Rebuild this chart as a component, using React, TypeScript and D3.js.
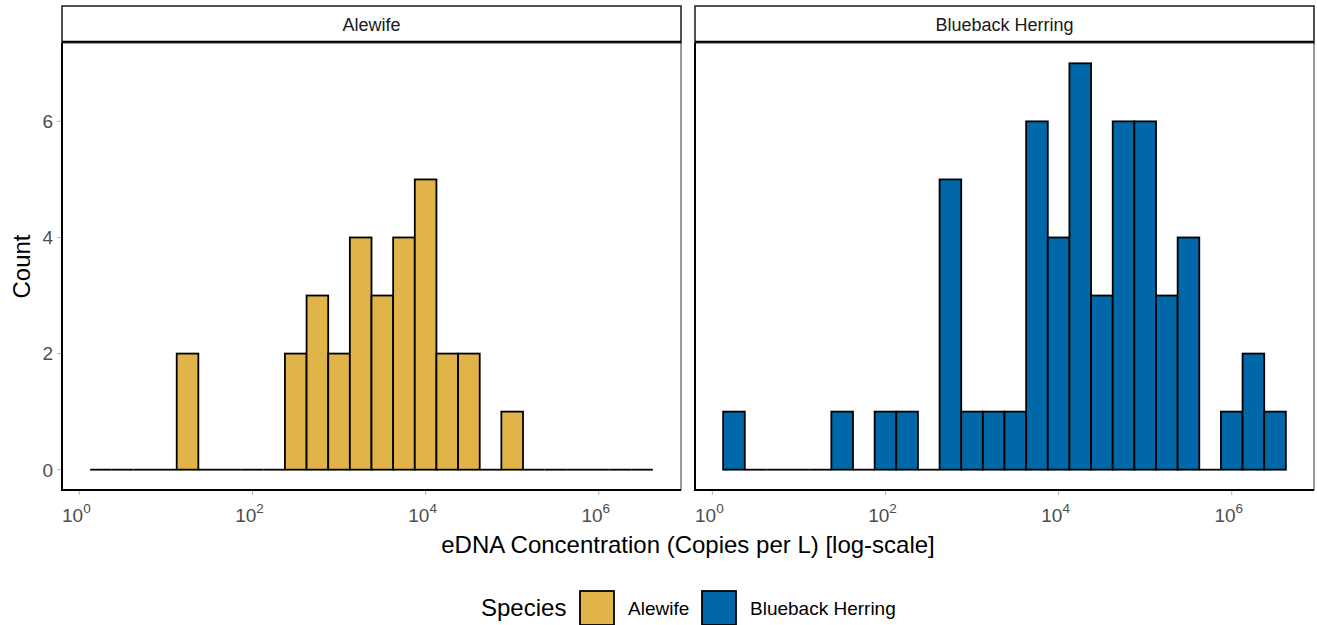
import React from 'react';
import * as d3 from 'd3';

// bins are 0.25 log10 units wide; centres from 0.25 to 6.5
const binCentres = [
  0.25, 0.5, 0.75, 1.0, 1.25, 1.5, 1.75, 2.0, 2.25, 2.5, 2.75, 3.0, 3.25,
  3.5, 3.75, 4.0, 4.25, 4.5, 4.75, 5.0, 5.25, 5.5, 5.75, 6.0, 6.25, 6.5,
];
const alewifeCounts = [
  0, 0, 0, 0, 2, 0, 0, 0, 0, 2, 3, 2, 4, 3, 4, 5, 2, 2, 0, 1, 0, 0, 0, 0, 0, 0,
];
const bluebackCounts = [
  1, 0, 0, 0, 0, 1, 0, 1, 1, 0, 5, 1, 1, 1, 6, 4, 7, 3, 6, 6, 3, 4, 0, 1, 2, 1,
];
const binWidth = 0.25;
const species = ['Alewife', 'Blueback Herring'];
const colours = ['#E1B44A', '#0068A8'];
const xTicks = [0, 2, 4, 6];
const yTicks = [0, 2, 4, 6];

const panels = [
  { name: species[0], counts: alewifeCounts, fill: colours[0], left: 62 },
  { name: species[1], counts: bluebackCounts, fill: colours[1], left: 695 },
];

const W = 1317;
const H = 625;
const panelW = 619;
const panelTop = 43;
const panelBottom = 490;
const stripTop = 6;
const font = 'Arial, "Liberation Sans", sans-serif';

const Panel: React.FC<{ name: string; counts: number[]; fill: string; left: number; first: boolean }> = ({
  name,
  counts,
  fill,
  left,
  first,
}) => {
  const lo = binCentres[0] - binWidth / 2;
  const hi = binCentres[binCentres.length - 1] + binWidth / 2;
  const padX = (hi - lo) * 0.05;
  const x = d3.scaleLinear().domain([lo - padX, hi + padX]).range([left, left + panelW]);
  const maxY = d3.max([...alewifeCounts, ...bluebackCounts]) || 7;
  const y = d3
    .scaleLinear()
    .domain([-maxY * 0.05, maxY * 1.05])
    .range([panelBottom, panelTop]);

  const bins = binCentres.map((c, i) => ({ x0: c - binWidth / 2, x1: c + binWidth / 2, n: counts[i] }));

  return (
    <g>
      {/* strip */}
      <rect x={left} y={stripTop} width={panelW} height={panelTop - stripTop} fill="white" stroke="#1a1a1a" strokeWidth={1.5} />
      <line x1={left} x2={left + panelW} y1={panelTop - 1} y2={panelTop - 1} stroke="black" strokeWidth={2.5} />
      <text x={left + panelW / 2} y={(stripTop + panelTop) / 2} dy="0.35em" textAnchor="middle" fontSize={18} fill="#1a1a1a">
        {name}
      </text>

      {/* panel border */}
      <rect x={left} y={panelTop} width={panelW} height={panelBottom - panelTop} fill="white" stroke="#333" strokeWidth={1} />

      {/* bars; empty bins are drawn as a flat line like ggplot */}
      {bins.map((b, i) =>
        b.n > 0 ? (
          <rect
            key={i}
            x={x(b.x0)}
            y={y(b.n)}
            width={x(b.x1) - x(b.x0)}
            height={y(0) - y(b.n)}
            fill={fill}
            stroke="black"
            strokeWidth={1.8}
          />
        ) : (
          <line key={i} x1={x(b.x0)} x2={x(b.x1)} y1={y(0)} y2={y(0)} stroke="black" strokeWidth={1.8} />
        )
      )}

      {/* axis lines */}
      <line x1={left} x2={left} y1={panelTop} y2={panelBottom + 1} stroke="black" strokeWidth={2} />
      <line x1={left - 1} x2={left + panelW} y1={panelBottom} y2={panelBottom} stroke="black" strokeWidth={2} />

      {/* x ticks */}
      {xTicks.map((t) => (
        <g key={t} transform={`translate(${x(t)},${panelBottom})`}>
          <line y1={1} y2={5} stroke="#b3b3b3" strokeWidth={1} />
          <text x={-3} y={32} textAnchor="middle" fontSize={19} fill="#4D4D4D">
            10
            <tspan dy={-9} fontSize={13.5}>
              {t}
            </tspan>
          </text>
        </g>
      ))}

      {/* y ticks only on first panel */}
      {first &&
        yTicks.map((t) => (
          <g key={t} transform={`translate(${left},${y(t)})`}>
            <line x1={-5} x2={-1} stroke="#b3b3b3" strokeWidth={1} />
            <text x={-9} dy="0.36em" textAnchor="end" fontSize={19} fill="#4D4D4D">
              {t}
            </text>
          </g>
        ))}
    </g>
  );
};

const App: React.FC = () => {
  const legendY = 608;
  return (
    <svg width={W} height={H} style={{ position: 'absolute', left: 0, top: 0, fontFamily: font }}>
      <rect width={W} height={H} fill="white" />
      {panels.map((p, i) => (
        <Panel key={p.name} {...p} first={i === 0} />
      ))}

      <text x={688} y={553} textAnchor="middle" fontSize={24} fill="black">
        eDNA Concentration (Copies per L) [log-scale]
      </text>
      <text transform={`translate(30,${(panelTop + panelBottom) / 2}) rotate(-90)`} textAnchor="middle" fontSize={24} fill="black">
        Count
      </text>

      {/* legend */}
      <text x={481} y={legendY} dy="0.35em" fontSize={24} fill="black">
        Species
      </text>
      {species.map((s, i) => {
        const kx = [580, 702][i];
        return (
          <g key={s}>
            <rect x={kx} y={legendY - 17} width={34} height={34} fill={colours[i]} stroke="black" strokeWidth={1.8} />
            <text x={kx + 48} y={legendY} dy="0.35em" fontSize={19} fill="black">
              {s}
            </text>
          </g>
        );
      })}
    </svg>
  );
};

export default App;
